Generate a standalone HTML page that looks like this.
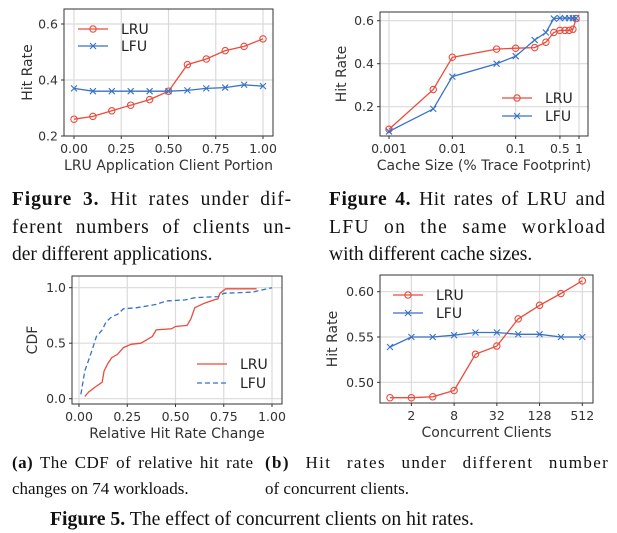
<!DOCTYPE html>
<html><head><meta charset="utf-8">
<style>
html,body{margin:0;padding:0;background:#fff;}
svg{display:block;}
.tk{font-family:"DejaVu Sans",sans-serif;font-size:12.5px;fill:#333;}
.al{font-family:"DejaVu Sans",sans-serif;font-size:14px;fill:#333;}
.lg{font-family:"DejaVu Sans",sans-serif;font-size:14px;fill:#222;}
.cap{font-family:"Liberation Serif",serif;font-size:19.5px;fill:#111;}
.sub{font-family:"Liberation Serif",serif;font-size:17px;fill:#111;}
</style></head>
<body>
<svg id="fig" width="617" height="533" viewBox="0 0 617 533" xmlns="http://www.w3.org/2000/svg">
<g id="charts"></g>
<text class="cap jl" data-w="279" x="12" y="205"><tspan font-weight="bold">Figure 3.</tspan> Hit rates under dif-</text>
<text class="cap jl" data-w="279" x="12" y="233">ferent numbers of clients un-</text>
<text class="cap" x="12" y="260">der different applications.</text>
<text class="cap jl" data-w="276" x="329" y="205"><tspan font-weight="bold">Figure 4.</tspan> Hit rates of LRU and</text>
<text class="cap jl" data-w="276" x="329" y="233">LFU on the same workload</text>
<text class="cap" x="329" y="260">with different cache sizes.</text>
<text class="sub jl" data-w="241" x="12" y="468"><tspan font-weight="bold">(a)</tspan> The CDF of relative hit rate</text>
<text class="sub" x="12" y="494">changes on 74 workloads.</text>
<text class="sub jl" data-w="343" x="265" y="468"><tspan font-weight="bold">(b)</tspan> Hit rates under different number</text>
<text class="sub" x="265" y="494">of concurrent clients.</text>
<text class="cap" x="50" y="525" textLength="424" lengthAdjust="spacingAndGlyphs"><tspan font-weight="bold">Figure 5.</tspan> The effect of concurrent clients on hit rates.</text>
</svg>
<script>
// Chart 1 (Figure 3)
const c1X = [0,0.1,0.2,0.3,0.4,0.5,0.6,0.7,0.8,0.9,1.0];
const c1LRU = [0.26,0.27,0.29,0.31,0.33,0.36,0.455,0.475,0.505,0.52,0.547];
const c1LFU = [0.37,0.36,0.36,0.36,0.36,0.36,0.363,0.37,0.373,0.383,0.378];
const c1XTicks = [0,0.25,0.5,0.75,1.0];
const c1XLabels = ["0.00","0.25","0.50","0.75","1.00"];
const c1YTicks = [0.2,0.4,0.6];
const c1YLabels = ["0.2","0.4","0.6"];
// Chart 2 (Figure 4)
const c2LRUx = [0.001,0.005,0.01,0.05,0.1,0.2,0.3,0.4,0.5,0.6,0.7,0.8,0.9];
const c2LRU = [0.095,0.28,0.43,0.468,0.472,0.475,0.50,0.545,0.555,0.555,0.555,0.56,0.61];
const c2LFUx = [0.001,0.005,0.01,0.05,0.1,0.2,0.3,0.4,0.5,0.6,0.7,0.8,0.9];
const c2LFU = [0.085,0.19,0.34,0.40,0.435,0.51,0.545,0.61,0.612,0.612,0.612,0.612,0.612];
const c2XTicks = [0.001,0.01,0.1,0.5,1];
const c2XLabels = ["0.001","0.01","0.1","0.5","1"];
const c2YTicks = [0.2,0.4,0.6];
const c2YLabels = ["0.2","0.4","0.6"];
// Chart 3 (Figure 5a)
const c3LRUx = [0.03,0.05,0.08,0.12,0.13,0.15,0.17,0.2,0.23,0.27,0.32,0.38,0.4,0.48,0.5,0.56,0.58,0.6,0.65,0.7,0.72,0.73,0.76,0.92];
const c3LRU = [0.02,0.06,0.1,0.15,0.25,0.32,0.37,0.4,0.46,0.49,0.5,0.56,0.62,0.63,0.65,0.66,0.72,0.82,0.86,0.89,0.9,0.95,0.99,0.99];
const c3LFUx = [0.01,0.03,0.05,0.07,0.09,0.12,0.14,0.17,0.2,0.23,0.3,0.4,0.45,0.55,0.6,0.72,0.75,0.9,1.0];
const c3LFU = [0.04,0.25,0.35,0.45,0.56,0.62,0.69,0.74,0.76,0.81,0.82,0.85,0.88,0.89,0.91,0.92,0.95,0.96,1.0];
const c3XTicks = [0,0.25,0.5,0.75,1.0];
const c3XLabels = ["0.00","0.25","0.50","0.75","1.00"];
const c3YTicks = [0,0.5,1.0];
const c3YLabels = ["0.0","0.5","1.0"];
// Chart 4 (Figure 5b)
const c4X = [1,2,4,8,16,32,64,128,256,512];
const c4LRU = [0.483,0.483,0.484,0.491,0.531,0.54,0.57,0.585,0.598,0.612];
const c4LFU = [0.539,0.55,0.55,0.552,0.555,0.555,0.553,0.553,0.55,0.55];
const c4XTicks = [2,8,32,128,512];
const c4XLabels = ["2","8","32","128","512"];
const c4YTicks = [0.5,0.55,0.6];
const c4YLabels = ["0.50","0.55","0.60"];

const NS="http://www.w3.org/2000/svg";
const root=document.getElementById('charts');
const RED="#ec4b3c", BLUE="#3872c6";
function mk(tag,attrs,parent){const e=document.createElementNS(NS,tag);for(const k in attrs)e.setAttribute(k,attrs[k]);(parent||root).appendChild(e);return e;}
function linear(d0,d1,r0,r1){return v=>r0+(v-d0)/(d1-d0)*(r1-r0);}
function logs(d0,d1,r0,r1){return v=>r0+(Math.log(v)-Math.log(d0))/(Math.log(d1)-Math.log(d0))*(r1-r0);}

function chart(cfg){
  const g=mk('g',{});
  
  
  const {L,R,T,B,sx,sy}=cfg;
  cfg.xt.forEach((v,i)=>{
    const x=sx(v);
    const gl=mk('line',{x1:x,x2:x,y1:T,y2:B,stroke:'#dadada','stroke-width':1.2},g);
    
    
    mk('line',{x1:x,x2:x,y1:B,y2:B+3,stroke:'#333'},g);
    const t=mk('text',{x:x,y:B+17,'text-anchor':'middle',class:'tk'},g);
    t.textContent=cfg.xl[i];
    
    
  });
  cfg.yt.forEach((v,i)=>{
    const y=sy(v);
    const gl=mk('line',{x1:L,x2:R,y1:y,y2:y,stroke:'#dadada','stroke-width':1.2},g);
    
    
    mk('line',{x1:L-3,x2:L,y1:y,y2:y,stroke:'#333'},g);
    const t=mk('text',{x:L-6,y:y+4.5,'text-anchor':'end',class:'tk'},g);
    t.textContent=cfg.yl[i];
    
    
  });
  cfg.series.forEach(s=>{
    const pts=s.xs.map((x,i)=>sx(x).toFixed(1)+','+sy(s.ys[i]).toFixed(1)).join(' ');
    const pl=mk('polyline',{points:pts,fill:'none',stroke:s.color,'stroke-width':1.3,'stroke-dasharray':s.dash||'none'},g);
    
    
    if(s.marker){
      s.xs.forEach((x,i)=>{
        const cx=sx(x),cy=sy(s.ys[i]);
        let m;
        if(s.marker==='o'){m=mk('circle',{cx:cx,cy:cy,r:3.2,fill:'none',stroke:s.color,'stroke-width':1.1},g);}
        else{m=mk('path',{d:`M${cx-3},${cy-3}L${cx+3},${cy+3}M${cx-3},${cy+3}L${cx+3},${cy-3}`,stroke:s.color,'stroke-width':1.1},g);}
        
        
      });
    }
    const lx=cfg.leg.x, ly=s===cfg.series[0]?cfg.leg.y1:cfg.leg.y2;
    mk('line',{x1:lx,x2:lx+30,y1:ly,y2:ly,stroke:s.color,'stroke-width':1.3,'stroke-dasharray':s.dash||'none'},g);
    if(s.marker==='o')mk('circle',{cx:lx+15,cy:ly,r:3.2,fill:'none',stroke:s.color,'stroke-width':1.1},g);
    else if(s.marker)mk('path',{d:`M${lx+12},${ly-3}L${lx+18},${ly+3}M${lx+12},${ly+3}L${lx+18},${ly-3}`,stroke:s.color,'stroke-width':1.1},g);
    const lt=mk('text',{x:lx+43,y:ly+5,class:'lg'},g);
    lt.textContent=s.label;
    
    
  });
  const fr=mk('rect',{x:L,y:T,width:R-L,height:B-T,fill:'none',stroke:'#333','stroke-width':1},g);
  
  
  const xl=mk('text',{x:(L+R)/2,y:B+34,'text-anchor':'middle',class:'al'},g);
  xl.textContent=cfg.xlabel;
  
  
  const yx=cfg.ylx, yy=(T+B)/2;
  const yl=mk('text',{x:yx,y:yy,'text-anchor':'middle',class:'al',transform:`rotate(-90 ${yx} ${yy})`},g);
  yl.textContent=cfg.ylabel;
  
  
}

chart({name:'figure3-chart',L:64,R:273,T:9,B:136,sx:linear(0,1,74,263),sy:linear(0.2,0.6,136,24),
  xt:c1XTicks,xl:c1XLabels,yt:c1YTicks,yl:c1YLabels,xlabel:'LRU Application Client Portion',ylabel:'Hit Rate',ylx:32,
  leg:{x:78,y1:29,y2:46},
  series:[{label:'LRU',xs:c1X,ys:c1LRU,color:RED,marker:'o'},{label:'LFU',xs:c1X,ys:c1LFU,color:BLUE,marker:'x'}]});
chart({name:'figure4-chart',L:380,R:588,T:12,B:136,sx:logs(0.001,1,389,579),sy:linear(0.2,0.6,106.7,20.7),
  xt:c2XTicks,xl:c2XLabels,yt:c2YTicks,yl:c2YLabels,xlabel:'Cache Size (% Trace Footprint)',ylabel:'Hit Rate',ylx:346,
  leg:{x:502,y1:98,y2:116},
  series:[{label:'LRU',xs:c2LRUx,ys:c2LRU,color:RED,marker:'o'},{label:'LFU',xs:c2LFUx,ys:c2LFU,color:BLUE,marker:'x'}]});
chart({name:'figure5a-cdf-chart',L:72,R:282,T:276,B:404,sx:linear(0,1,79,272),sy:linear(0,1,398.7,287.7),
  xt:c3XTicks,xl:c3XLabels,yt:c3YTicks,yl:c3YLabels,xlabel:'Relative Hit Rate Change',ylabel:'CDF',ylx:37,
  leg:{x:197,y1:364,y2:383},
  series:[{label:'LRU',xs:c3LRUx,ys:c3LRU,color:RED},{label:'LFU',xs:c3LFUx,ys:c3LFU,color:BLUE,dash:'5,3'}]});
chart({name:'figure5b-chart',L:380,R:593,T:275,B:403,sx:logs(1,512,390,582.3),sy:linear(0.5,0.6,382.3,291.7),
  xt:c4XTicks,xl:c4XLabels,yt:c4YTicks,yl:c4YLabels,xlabel:'Concurrent Clients',ylabel:'Hit Rate',ylx:337,
  leg:{x:393,y1:295,y2:313},
  series:[{label:'LRU',xs:c4X,ys:c4LRU,color:RED,marker:'o'},{label:'LFU',xs:c4X,ys:c4LFU,color:BLUE,marker:'x'}]});

// justify caption lines: split extra width between glyph stretch, letter spacing and word gaps
document.querySelectorAll('text.jl').forEach(t=>{
  const target=parseFloat(t.getAttribute('data-w'));
  const w=t.getComputedTextLength();
  if(target<=w) return;
  const extra=target-w;
  const chars=t.textContent.length-1;
  const gaps=(t.textContent.match(/ /g)||[]).length;
  const ls=extra*0.5/chars;
  t.setAttribute('letter-spacing',ls.toFixed(2));
  if(gaps>0) t.setAttribute('word-spacing',((extra*0.5)/gaps).toFixed(2));
});
</script>
</body></html>
